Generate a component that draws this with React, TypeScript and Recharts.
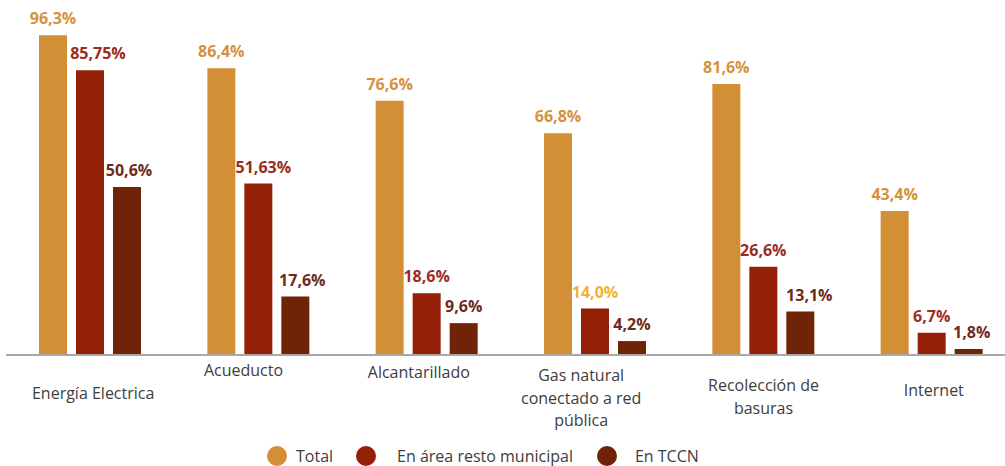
import React from 'react';
import { BarChart, Bar, XAxis, YAxis, LabelList, Legend } from 'recharts';

const categories = [
  'Energía Electrica',
  'Acueducto',
  'Alcantarillado',
  'Gas natural conectado a red pública',
  'Recolección de basuras',
  'Internet',
];
const tickLines = [
  ['Energía Electrica'],
  ['Acueducto'],
  ['Alcantarillado'],
  ['Gas natural', 'conectado a red', 'pública'],
  ['Recolección de', 'basuras'],
  ['Internet'],
];
const totalValues = [96.3, 86.4, 76.6, 66.8, 81.6, 43.4];
const restoValues = [85.75, 51.63, 18.6, 14.0, 26.6, 6.7];
const tccnValues = [50.6, 17.6, 9.6, 4.2, 13.1, 1.8];
const seriesNames = ['Total', 'En área resto municipal', 'En TCCN'];

const data = categories.map((c, i) => ({
  category: c,
  total: totalValues[i],
  resto: restoValues[i],
  tccn: tccnValues[i],
}));

// styles
const FONT = '"Open Sans", "DejaVu Sans", sans-serif';
const COLORS = ['#D38F36', '#952008', '#6F2407'];
const LABEL_COLORS = ['#D6913D', '#9C2B22', '#6E2A1E'];
const HIGHLIGHT = { series: 1, index: 3, color: '#F2B233' };
const LABEL_DX: Record<string, number> = { '1-0': 8, '1-1': 5, '2-1': 7, '2-4': 9, '2-0': 2, '2-5': 3 };
const TICK_DX = [3, -15, -8, -14, 0, 2];
const TICK_DY = [38, 15, 17, 20, 30, 35];
const LINE_H = 22.5;
const LEGEND_DOT_GAP = [9, 21, 18];
const LEGEND_ITEM_GAP = [23, 24, 0];

function fmt(v: number) {
  const ten = v * 10;
  const s = Math.abs(ten - Math.round(ten)) < 1e-6 ? v.toFixed(1) : v.toFixed(2);
  return s.replace('.', ',') + '%';
}

function makeLabel(series: number) {
  return (props: any) => {
    const { x, y, width, value, index } = props;
    const color =
      series === HIGHLIGHT.series && index === HIGHLIGHT.index ? HIGHLIGHT.color : LABEL_COLORS[series];
    const dx = LABEL_DX[`${series}-${index}`] || 0;
    return (
      <text
        x={Number(x) + Number(width) / 2 + dx}
        y={Number(y) - 11}
        textAnchor="middle"
        fill={color}
        fontSize={16}
        fontWeight={700}
        fontFamily={FONT}
      >
        {fmt(Number(value))}
      </text>
    );
  };
}

function CategoryTick(props: any) {
  const { x, y, payload } = props;
  const i = payload.index;
  const lines = tickLines[i] || [];
  return (
    <g>
      {lines.map((l, k) => (
        <text
          key={k}
          x={x + TICK_DX[i]}
          y={y + TICK_DY[i] + k * LINE_H}
          textAnchor="middle"
          dominantBaseline="central"
          fill="#3d3d3d"
          fontSize={16}
          fontFamily={FONT}
        >
          {l}
        </text>
      ))}
    </g>
  );
}

function LegendContent() {
  return (
    <div
      style={{
        display: 'flex',
        alignItems: 'center',
        height: 20,
        fontFamily: FONT,
        fontSize: 16,
        lineHeight: '18px',
        color: '#3d3d3d',
        whiteSpace: 'nowrap',
      }}
    >
      {seriesNames.map((n, i) => (
        <div key={n} style={{ display: 'flex', alignItems: 'center', marginRight: LEGEND_ITEM_GAP[i] }}>
          <span
            style={{
              display: 'inline-block',
              width: 20,
              height: 20,
              borderRadius: 10,
              background: COLORS[i],
              marginRight: LEGEND_DOT_GAP[i],
            }}
          />
          <span>{n}</span>
        </div>
      ))}
    </div>
  );
}

export default function App() {
  return (
    <div
      style={{
        position: 'absolute',
        left: 0,
        top: 0,
        width: 1005,
        height: 466,
        overflow: 'hidden',
        background: '#fff',
      }}
    >
      <BarChart
        width={1017}
        height={466}
        data={data}
        margin={{ top: 23, right: 1, left: 6, bottom: 0 }}
        barSize={28}
        barGap={9}
      >
        <YAxis hide domain={[0, 100]} />
        <XAxis
          dataKey="category"
          height={91}
          tickLine={false}
          tickSize={0}
          tickMargin={0}
          axisLine={{ stroke: '#A8A8AA', strokeWidth: 2 }}
          tick={<CategoryTick />}
          interval={0}
        />
        <Legend
          verticalAlign="bottom"
          content={<LegendContent />}
          wrapperStyle={{ left: 267, width: 460, bottom: 0 }}
        />
        <Bar dataKey="total" fill={COLORS[0]} isAnimationActive={false}>
          <LabelList dataKey="total" content={makeLabel(0)} />
        </Bar>
        <Bar dataKey="resto" fill={COLORS[1]} isAnimationActive={false}>
          <LabelList dataKey="resto" content={makeLabel(1)} />
        </Bar>
        <Bar dataKey="tccn" fill={COLORS[2]} isAnimationActive={false}>
          <LabelList dataKey="tccn" content={makeLabel(2)} />
        </Bar>
      </BarChart>
    </div>
  );
}
